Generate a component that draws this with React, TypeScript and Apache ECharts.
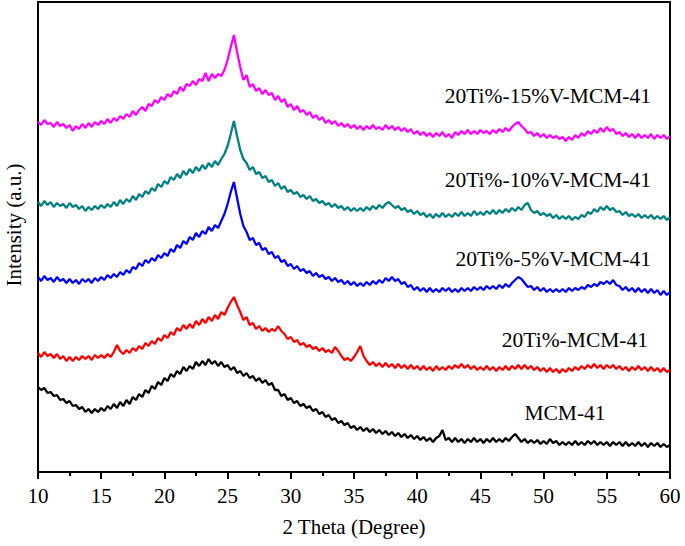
import React, { useEffect, useRef } from "react";
import * as echarts from "echarts";

// 2θ sampling (degrees), 0.25° step from 10 to 60
const twoTheta: number[] = Array.from({ length: 201 }, (_, i) => 10 + i * 0.25);

// Intensities (a.u., stacked offsets)
const mcm41: number[] = [
  85, 82, 84, 79, 80, 76, 77, 72, 73, 69, 71, 66, 67, 63, 65, 60,
  63, 59, 63, 60, 64, 61, 66, 63, 68, 64, 70, 66, 72, 68, 75, 72,
  78, 75, 82, 79, 86, 83, 90, 87, 94, 91, 98, 95, 101, 98, 105, 101,
  106, 103, 110, 106, 111, 107, 113, 108, 111, 106, 110, 105, 107, 102, 105, 99,
  101, 96, 99, 94, 96, 91, 94, 89, 92, 87, 89, 82, 82, 76, 78, 72,
  74, 69, 71, 66, 68, 64, 66, 61, 63, 58, 60, 55, 57, 52, 54, 49,
  51, 47, 49, 44, 46, 42, 45, 41, 44, 40, 43, 39, 42, 38, 41, 37,
  40, 36, 39, 35, 38, 34, 37, 33, 36, 32, 35, 31, 34, 30, 34, 36,
  42, 32, 34, 30, 34, 30, 33, 29, 33, 30, 34, 30, 33, 29, 33, 30,
  34, 30, 33, 30, 34, 31, 35, 38, 34, 30, 33, 29, 32, 29, 32, 28,
  31, 28, 33, 29, 31, 27, 30, 27, 30, 27, 31, 27, 30, 27, 31, 28,
  31, 27, 30, 27, 30, 26, 30, 27, 30, 26, 30, 26, 29, 26, 30, 26,
  29, 25, 29, 26, 29, 25, 28, 25, 27,
];

const ti20: number[] = [
  119, 115, 120, 116, 118, 114, 118, 113, 116, 111, 115, 111, 115, 112, 116, 113,
  116, 112, 117, 114, 117, 114, 118, 115, 120, 127, 121, 118, 122, 119, 124, 121,
  126, 123, 129, 126, 131, 128, 134, 131, 137, 134, 140, 137, 144, 141, 147, 143,
  148, 144, 151, 147, 153, 149, 155, 151, 157, 153, 160, 157, 164, 170, 175, 167,
  160, 152, 155, 147, 149, 143, 146, 141, 144, 140, 143, 141, 146, 141, 138, 133,
  135, 130, 132, 127, 129, 125, 127, 123, 125, 121, 124, 120, 122, 119, 125, 121,
  116, 112, 114, 111, 115, 120, 126, 116, 111, 107, 110, 106, 109, 105, 109, 105,
  108, 104, 108, 104, 107, 103, 107, 103, 106, 102, 106, 102, 105, 101, 106, 102,
  105, 102, 106, 103, 107, 104, 108, 104, 107, 103, 106, 102, 105, 102, 106, 102,
  105, 101, 105, 102, 106, 102, 106, 103, 107, 103, 107, 103, 106, 102, 105, 101,
  104, 100, 104, 100, 103, 99, 103, 100, 104, 101, 105, 102, 106, 103, 107, 104,
  108, 104, 107, 103, 107, 104, 107, 103, 106, 102, 105, 101, 105, 102, 106, 102,
  105, 101, 105, 101, 104, 100, 104, 100, 102,
];

const ti20v5: number[] = [
  195, 191, 196, 192, 194, 190, 195, 191, 193, 189, 193, 189, 192, 188, 193, 190,
  193, 189, 194, 191, 195, 192, 197, 194, 198, 195, 200, 197, 202, 199, 205, 203,
  209, 206, 212, 209, 214, 211, 217, 214, 219, 216, 223, 220, 227, 224, 231, 228,
  235, 232, 239, 235, 241, 238, 245, 241, 247, 244, 251, 258, 268, 280, 290, 274,
  258, 246, 240, 232, 234, 227, 229, 222, 224, 218, 220, 214, 216, 210, 212, 206,
  208, 203, 206, 201, 203, 199, 201, 196, 199, 195, 197, 193, 195, 191, 194, 190,
  192, 188, 191, 187, 190, 186, 189, 186, 190, 187, 191, 188, 192, 189, 194, 191,
  195, 191, 193, 188, 190, 185, 187, 182, 185, 181, 184, 180, 184, 180, 183, 180,
  184, 181, 184, 180, 183, 180, 184, 181, 184, 181, 185, 182, 185, 182, 186, 183,
  186, 183, 187, 184, 188, 185, 189, 192, 195, 193, 189, 185, 186, 182, 185, 181,
  184, 180, 183, 180, 183, 180, 183, 180, 184, 181, 184, 182, 185, 183, 187, 185,
  188, 186, 190, 188, 191, 188, 192, 187, 186, 182, 185, 181, 184, 180, 184, 180,
  183, 179, 183, 179, 182, 177, 181, 177, 180,
];

const ti20v10: number[] = [
  270, 266, 271, 267, 270, 265, 269, 266, 268, 264, 269, 265, 267, 263, 266, 261,
  265, 262, 266, 263, 267, 264, 268, 265, 270, 266, 272, 268, 273, 270, 276, 272,
  278, 275, 281, 278, 284, 281, 288, 285, 291, 288, 295, 292, 298, 294, 301, 297,
  303, 299, 305, 301, 307, 303, 309, 305, 311, 307, 313, 318, 326, 338, 351, 336,
  322, 313, 309, 302, 305, 298, 300, 294, 296, 290, 292, 286, 289, 283, 286, 280,
  282, 278, 280, 275, 277, 273, 276, 271, 273, 269, 271, 267, 269, 265, 268, 264,
  266, 262, 265, 261, 264, 261, 264, 261, 265, 262, 266, 263, 267, 264, 268, 270,
  267, 264, 266, 262, 264, 260, 262, 258, 261, 257, 259, 255, 258, 254, 258, 255,
  259, 255, 258, 255, 259, 256, 260, 256, 259, 256, 261, 257, 260, 257, 261, 258,
  262, 258, 262, 259, 263, 260, 264, 261, 265, 262, 267, 269, 262, 259, 261, 257,
  259, 256, 258, 254, 257, 253, 256, 253, 256, 252, 255, 253, 257, 255, 260, 258,
  263, 260, 265, 262, 266, 262, 264, 260, 261, 257, 260, 256, 258, 255, 258, 254,
  257, 254, 257, 253, 256, 253, 256, 252, 255,
];

const ti20v15: number[] = [
  350, 347, 352, 348, 349, 345, 350, 346, 348, 344, 347, 341, 346, 343, 348, 344,
  349, 345, 350, 347, 351, 348, 353, 349, 354, 351, 356, 353, 358, 355, 361, 357,
  362, 365, 361, 368, 366, 372, 369, 375, 372, 378, 375, 381, 378, 385, 381, 388,
  386, 391, 387, 393, 391, 399, 391, 398, 394, 398, 396, 402, 412, 425, 437, 420,
  405, 392, 397, 385, 388, 381, 384, 378, 382, 377, 379, 372, 376, 370, 373, 365,
  368, 362, 366, 360, 362, 357, 360, 354, 357, 352, 355, 349, 352, 348, 351, 346,
  349, 345, 348, 344, 347, 343, 346, 342, 346, 343, 347, 343, 345, 342, 347, 343,
  346, 342, 345, 341, 344, 340, 343, 338, 341, 337, 340, 336, 339, 335, 339, 336,
  340, 335, 338, 334, 340, 337, 341, 338, 342, 338, 341, 338, 342, 339, 341, 338,
  342, 339, 343, 340, 344, 341, 345, 348, 350, 346, 343, 339, 340, 336, 339, 335,
  338, 334, 337, 334, 336, 333, 335, 331, 335, 332, 337, 334, 339, 336, 341, 338,
  342, 339, 344, 340, 345, 341, 343, 338, 340, 336, 339, 335, 338, 334, 338, 334,
  337, 334, 338, 333, 337, 334, 337, 333, 336,
];

const seriesNames: string[] = [
  "MCM-41",
  "20Ti%-MCM-41",
  "20Ti%-5%V-MCM-41",
  "20Ti%-10%V-MCM-41",
  "20Ti%-15%V-MCM-41",
];
const seriesData: number[][] = [mcm41, ti20, ti20v5, ti20v10, ti20v15];
const seriesColors: string[] = ["#000000", "#ff0000", "#0000ff", "#008080", "#ff00ff"];

const xTicks = { min: 10, max: 60, interval: 5 };

const FONT = "'Liberation Serif', 'Times New Roman', serif";

export default function App() {
  const ref = useRef<HTMLDivElement>(null);

  useEffect(() => {
    if (!ref.current) return;
    const chart = echarts.init(ref.current, null, { renderer: "svg" });

    chart.setOption({
      animation: false,
      backgroundColor: "#ffffff",
      grid: {
        left: 38,
        right: 15,
        top: 2,
        bottom: 74,
        show: true,
        borderColor: "#000",
        borderWidth: 2,
        containLabel: false,
      },
      xAxis: {
        type: "value",
        min: xTicks.min,
        max: xTicks.max,
        interval: xTicks.interval,
        axisLine: { show: true, lineStyle: { color: "#000", width: 2 } },
        axisTick: { show: true, inside: false, length: 7, lineStyle: { color: "#000", width: 2 } },
        minorTick: { show: true, splitNumber: 2, length: 4, lineStyle: { color: "#000", width: 2 } },
        splitLine: { show: false },
        axisLabel: { color: "#000", fontFamily: FONT, fontSize: 21, margin: 13 },
        name: "2 Theta (Degree)",
        nameLocation: "middle",
        nameGap: 44,
        nameTextStyle: { color: "#000", fontFamily: FONT, fontSize: 21 },
      },
      yAxis: {
        type: "value",
        min: 0,
        max: 470,
        axisLine: { show: false },
        axisTick: { show: false },
        axisLabel: { show: false },
        splitLine: { show: false },
      },
      series: seriesData.map((d, k) => ({
        type: "line",
        name: seriesNames[k],
        data: twoTheta.map((x, i) => [x, d[i]]),
        showSymbol: false,
        symbol: "none",
        lineStyle: { color: seriesColors[k], width: 2.3 },
        silent: true,
      })),
      graphic: [
        {
          type: "text",
          x: 14,
          y: 225,
          rotation: Math.PI / 2,
          style: {
            text: "Intensity (a.u.)",
            fontFamily: FONT,
            fontSize: 21,
            fill: "#000",
            align: "center",
            verticalAlign: "middle",
          },
        },
        {
          type: "text",
          x: 651,
          y: 96,
          style: { text: seriesNames[4], fontFamily: FONT, fontSize: 21.5, fill: "#000", align: "right", verticalAlign: "middle" },
        },
        {
          type: "text",
          x: 651,
          y: 180,
          style: { text: seriesNames[3], fontFamily: FONT, fontSize: 21.5, fill: "#000", align: "right", verticalAlign: "middle" },
        },
        {
          type: "text",
          x: 651,
          y: 259,
          style: { text: seriesNames[2], fontFamily: FONT, fontSize: 21.5, fill: "#000", align: "right", verticalAlign: "middle" },
        },
        {
          type: "text",
          x: 648,
          y: 340,
          style: { text: seriesNames[1], fontFamily: FONT, fontSize: 21.5, fill: "#000", align: "right", verticalAlign: "middle" },
        },
        {
          type: "text",
          x: 565,
          y: 413,
          style: { text: seriesNames[0], fontFamily: FONT, fontSize: 21.5, fill: "#000", align: "center", verticalAlign: "middle" },
        },
      ],
    });

    return () => chart.dispose();
  }, []);

  return <div ref={ref} style={{ width: 685, height: 546, position: "absolute", left: 0, top: 0 }} />;
}
